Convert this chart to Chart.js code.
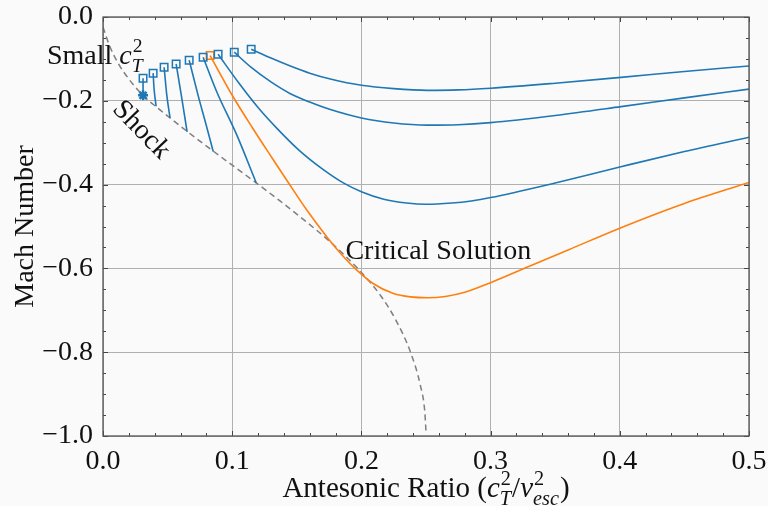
<!DOCTYPE html>
<html><head><meta charset="utf-8">
<script src="https://cdn.jsdelivr.net/npm/chart.js@4.4.0/dist/chart.umd.min.js"></script>
<style>html,body{margin:0;padding:0;background:#fafafa;}canvas{display:block;}</style>
</head><body><canvas id="c" width="768" height="506"></canvas>
<script>
// ---- tick values / labels ----
const xTicks = [0, 0.1, 0.2, 0.3, 0.4, 0.5];
const xTickLabels = ['0.0', '0.1', '0.2', '0.3', '0.4', '0.5'];
const yTicks = [0, -0.2, -0.4, -0.6, -0.8, -1.0];
const yTickLabels = ['0.0', '\u22120.2', '\u22120.4', '\u22120.6', '\u22120.8', '\u22121.0'];

// ---- shock (dashed) ----
const shockX = [0, 0.005, 0.012, 0.020, 0.0302, 0.0426, 0.0519, 0.0651, 0.0853, 0.1186, 0.137, 0.155, 0.176, 0.198, 0.2147, 0.2264, 0.238, 0.2457, 0.2490, 0.2500];
const shockY = [-0.024, -0.068, -0.112, -0.148, -0.185, -0.218, -0.241, -0.273, -0.320, -0.396, -0.439, -0.483, -0.537, -0.603, -0.664, -0.722, -0.800, -0.880, -0.940, -0.990];

// ---- critical solution (orange) ----
const critX = [0.0829, 0.1008, 0.116, 0.131, 0.1434, 0.158, 0.1736, 0.185, 0.195, 0.209, 0.2248, 0.238, 0.251, 0.265, 0.280, 0.300, 0.330, 0.360, 0.400, 0.450, 0.500];
const critY = [-0.092, -0.191, -0.266, -0.337, -0.395, -0.462, -0.526, -0.568, -0.600, -0.636, -0.660, -0.668, -0.670, -0.667, -0.657, -0.634, -0.595, -0.556, -0.504, -0.445, -0.395];

// ---- long blue solutions ----
const sol8X = [0.0891, 0.105, 0.120, 0.135, 0.1514, 0.1708, 0.186, 0.200, 0.2173, 0.235, 0.250, 0.270, 0.285, 0.300, 0.350, 0.400, 0.450, 0.500];
const sol8Y = [-0.089, -0.157, -0.216, -0.267, -0.317, -0.365, -0.396, -0.417, -0.435, -0.444, -0.447, -0.444, -0.439, -0.431, -0.396, -0.358, -0.321, -0.287];
const sol9X = [0.1016, 0.115, 0.130, 0.145, 0.160, 0.176, 0.200, 0.225, 0.251, 0.275, 0.300, 0.350, 0.401, 0.450, 0.500];
const sol9Y = [-0.084, -0.121, -0.155, -0.183, -0.203, -0.221, -0.241, -0.253, -0.258, -0.257, -0.252, -0.235, -0.214, -0.193, -0.172];
const sol10X = [0.1147, 0.130, 0.145, 0.160, 0.176, 0.200, 0.225, 0.251, 0.275, 0.300, 0.350, 0.401, 0.450, 0.500];
const sol10Y = [-0.077, -0.098, -0.117, -0.134, -0.148, -0.163, -0.171, -0.175, -0.174, -0.170, -0.158, -0.144, -0.130, -0.117];

// ---- short blue branches ending at the shock ----
const br1X = [0.031, 0.031];                     const br1Y = [-0.146, -0.187];
const br2X = [0.0388, 0.0395, 0.0411];           const br2Y = [-0.134, -0.170, -0.213];
const br3X = [0.0473, 0.0494, 0.0519];           const br3Y = [-0.120, -0.187, -0.241];
const br4X = [0.0566, 0.061, 0.0651];            const br4Y = [-0.112, -0.194, -0.274];
const br5X = [0.0667, 0.0736, 0.0798, 0.0853];   const br5Y = [-0.103, -0.187, -0.257, -0.321];
const br6X = [0.0775, 0.0881, 0.1036, 0.1186];   const br6Y = [-0.096, -0.179, -0.282, -0.396];

// ---- markers ----
const startBlueX = [0.031, 0.0388, 0.0473, 0.0566, 0.0667, 0.0775, 0.0891, 0.1016, 0.1147];
const startBlueY = [-0.146, -0.134, -0.120, -0.112, -0.103, -0.096, -0.089, -0.084, -0.077];
const startOrangeX = [0.0829];
const startOrangeY = [-0.092];
const starX = [0.031];
const starY = [-0.187];

const BLUE = '#1f77b4', ORANGE = '#ff7f0e', GRAY = '#7f7f7f';
const FONT = '"Liberation Serif", "DejaVu Serif", serif';
const pts = (xs, ys) => xs.map((x, i) => ({x: x, y: ys[i]}));

function lineDS(xs, ys, color, extra) {
  return Object.assign({data: pts(xs, ys), showLine: true, borderColor: color, borderWidth: 1.6,
    pointRadius: 0, cubicInterpolationMode: 'monotone', fill: false, order: 2}, extra || {});
}

const datasets = [
  {data: pts(startBlueX, startBlueY), showLine: false, pointStyle: 'rect', pointRadius: 5.3,
   borderColor: BLUE, backgroundColor: 'rgba(255,255,255,0)', pointBorderWidth: 1.5, order: 0},
  {data: pts(startOrangeX, startOrangeY), showLine: false, pointStyle: 'rect', pointRadius: 5.3,
   borderColor: ORANGE, backgroundColor: 'rgba(255,255,255,0)', pointBorderWidth: 1.5, order: 0},
  {data: pts(starX, starY), showLine: false, pointStyle: 'star', pointRadius: 5,
   borderColor: BLUE, backgroundColor: BLUE, pointBorderWidth: 2.5, order: 0},
  lineDS(sol8X, sol8Y, BLUE), lineDS(sol9X, sol9Y, BLUE), lineDS(sol10X, sol10Y, BLUE),
  lineDS(br1X, br1Y, BLUE, {cubicInterpolationMode: 'default', tension: 0}),
  lineDS(br2X, br2Y, BLUE), lineDS(br3X, br3Y, BLUE),
  lineDS(br4X, br4Y, BLUE), lineDS(br5X, br5Y, BLUE), lineDS(br6X, br6Y, BLUE),
  lineDS(critX, critY, ORANGE, {order: 1}),
  lineDS(shockX, shockY, GRAY, {borderDash: [6, 4], borderWidth: 1.5, order: 3})
];

function drawRich(ctx, segs, x, y, size, align) {
  const sc = 0.7 * size;
  const fontOf = (it, s) => (it ? 'italic ' : '') + s + 'px ' + FONT;
  let w = 0;
  const widths = segs.map(s => {
    if (s.t !== undefined) { ctx.font = fontOf(s.i, size); return ctx.measureText(s.t).width; }
    ctx.font = fontOf(false, sc); const a = ctx.measureText(s.sup).width;
    ctx.font = fontOf(true, sc); const b = ctx.measureText(s.sub).width;
    return Math.max(a, b) + 1;
  });
  widths.forEach(v => w += v);
  let cx = align === 'center' ? x - w / 2 : x;
  ctx.textBaseline = 'alphabetic'; ctx.textAlign = 'left';
  segs.forEach((s, k) => {
    if (s.t !== undefined) { ctx.font = fontOf(s.i, size); ctx.fillText(s.t, cx, y); }
    else {
      ctx.font = fontOf(false, sc); ctx.fillText(s.sup, cx + 1, y - 0.42 * size);
      ctx.font = fontOf(true, sc); ctx.fillText(s.sub, cx, y + 0.28 * size);
    }
    cx += widths[k];
  });
}

const decor = {
  id: 'decor',
  beforeDraw(chart) {
    const c = chart.ctx; c.save(); c.fillStyle = '#fafafa'; c.fillRect(0, 0, chart.width, chart.height); c.restore();
  },
  afterDatasetsDraw(chart) {
    const c = chart.ctx, a = chart.chartArea, xs = chart.scales.x, ys = chart.scales.y;
    c.save();
    c.strokeStyle = '#444'; c.lineWidth = 1;
    for (let k = 0; k <= 25; k++) {
      const px = Math.round(xs.getPixelForValue(k * 0.02)) + 0.5;
      const L = (k % 5 === 0) ? 5 : 3;
      c.beginPath(); c.moveTo(px, a.bottom); c.lineTo(px, a.bottom - L);
      c.moveTo(px, a.top); c.lineTo(px, a.top + L); c.stroke();
    }
    for (let k = 0; k <= 20; k++) {
      const py = Math.round(ys.getPixelForValue(-k * 0.05)) + 0.5;
      const L = (k % 4 === 0) ? 5 : 3;
      c.beginPath(); c.moveTo(a.left, py); c.lineTo(a.left + L, py);
      c.moveTo(a.right, py); c.lineTo(a.right - L, py); c.stroke();
    }
    c.strokeStyle = '#555'; c.lineWidth = 1.3;
    c.strokeRect(a.left, a.top, a.right - a.left, a.bottom - a.top);
    c.restore();
  },
  afterDraw(chart) {
    const c = chart.ctx, a = chart.chartArea, xs = chart.scales.x, ys = chart.scales.y;
    c.save();
    c.fillStyle = '#111';
    drawRich(c, [{t: 'Antesonic Ratio (', i: false}, {t: 'c', i: true}, {sup: '2', sub: 'T'},
      {t: '/', i: false}, {t: 'v', i: true}, {sup: '2', sub: 'esc'}, {t: ')', i: false}],
      (a.left + a.right) / 2, 497, 29, 'center');
    c.save();
    c.translate(33, (a.top + a.bottom) / 2); c.rotate(-Math.PI / 2);
    c.font = '28px ' + FONT; c.textAlign = 'center'; c.textBaseline = 'alphabetic';
    c.fillText('Mach Number', 0, 0);
    c.restore();
    drawRich(c, [{t: 'Small ', i: false}, {t: 'c', i: true}, {sup: '2', sub: 'T'}],
      xs.getPixelForValue(-0.0434), ys.getPixelForValue(-0.1124), 28, 'left');
    c.save();
    c.translate(xs.getPixelForValue(0.0295), ys.getPixelForValue(-0.270));
    c.rotate(46 * Math.PI / 180);
    c.font = '28px ' + FONT; c.textAlign = 'center'; c.textBaseline = 'middle';
    c.fillText('Shock', 0, 0);
    c.restore();
    c.font = '28px ' + FONT; c.textAlign = 'left'; c.textBaseline = 'alphabetic';
    c.fillText('Critical Solution', xs.getPixelForValue(0.1876), ys.getPixelForValue(-0.5766));
    c.restore();
  }
};

const tickLabel = (vals, labels) => function (v) {
  for (let i = 0; i < vals.length; i++) if (Math.abs(vals[i] - v) < 1e-9) return labels[i];
  return '';
};
const noPad = s => { s.paddingTop = 0; s.paddingBottom = 0; s.paddingLeft = 0; s.paddingRight = 0; };

new Chart(document.getElementById('c'), {
  type: 'scatter',
  data: {datasets: datasets},
  plugins: [decor],
  options: {
    responsive: false, animation: false, devicePixelRatio: 1,
    layout: {padding: {top: 17, right: 19, left: 0, bottom: 0}},
    plugins: {legend: {display: false}, tooltip: {enabled: false}},
    scales: {
      x: {
        type: 'linear', min: 0, max: 0.5,
        afterBuildTicks: s => { s.ticks = xTicks.map(v => ({value: v})); },
        afterFit: s => { s.height = 70; noPad(s); },
        grid: {color: '#b0b0b0', lineWidth: 1, drawTicks: false},
        border: {display: false},
        ticks: {callback: tickLabel(xTicks, xTickLabels), font: {family: FONT, size: 28}, color: '#111', padding: 9, maxRotation: 0}
      },
      y: {
        type: 'linear', min: -1, max: 0,
        afterBuildTicks: s => { s.ticks = yTicks.map(v => ({value: v})); },
        afterFit: s => { s.width = 103; noPad(s); },
        grid: {color: '#b0b0b0', lineWidth: 1, drawTicks: false},
        border: {display: false},
        ticks: {callback: tickLabel(yTicks, yTickLabels), font: {family: FONT, size: 28}, color: '#111', padding: 10}
      }
    }
  }
});
</script></body></html>
